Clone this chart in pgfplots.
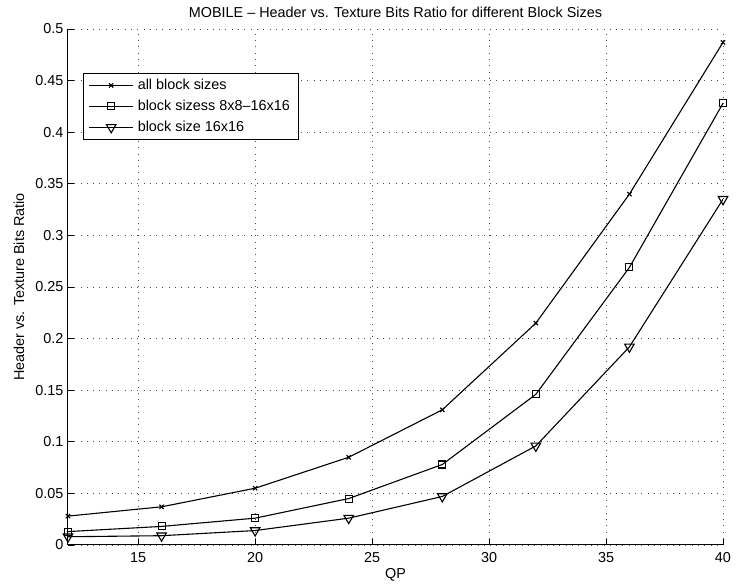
\documentclass[border=0pt]{standalone}
\usepackage{fontspec}
\setmainfont{Liberation Sans}
\usepackage{pgfplots}
\pgfplotsset{compat=1.18}
\begin{document}
\begin{tikzpicture}
\useasboundingbox (-68pt,-41pt) rectangle (672pt,545pt);
\begin{axis}[
  scale only axis,
  width=655pt, height=516pt,
  xmin=12, xmax=40, ymin=0, ymax=0.5,
  xtick={15,20,25,30,35,40},
  ytick={0,0.05,0.1,0.15,0.2,0.25,0.3,0.35,0.4,0.45,0.5},
  yticklabels={0,0.05,0.1,0.15,0.2,0.25,0.3,0.35,0.4,0.45,0.5},
  axis x line*=bottom, axis y line*=left,
  axis line style={line width=1pt,-},
  tick align=inside,
  major tick length=6pt,
  tick style={black, line width=0.9pt},
  grid=major,
  major grid style={black!70, line width=0.6pt, dash pattern=on 0.8pt off 5.5pt},
  /pgf/number format/assume math mode=true,
  tick label style={font=\fontsize{14.4}{17}\selectfont},
  xticklabel style={yshift=-4pt},
  yticklabel style={xshift=-1pt},
  every axis title/.style={at={(axis description cs:0.5,1)}, anchor=center, yshift=17pt, font=\fontsize{14.4}{17}\selectfont},
  every axis x label/.style={at={(axis description cs:0.5,0)}, anchor=center, yshift=-30pt, font=\fontsize{14.4}{17}\selectfont},
  every axis y label/.style={at={(axis description cs:0,0.5)}, anchor=center, rotate=90, yshift=49pt, font=\fontsize{14.4}{17}\selectfont},
  title={MOBILE -- Header vs. Texture Bits Ratio for different Block Sizes},
  xlabel={QP},
  ylabel={Header vs. Texture Bits Ratio},
  legend style={at={(0.0229,0.915)}, anchor=north west, draw=black, line width=1.3pt,
    font=\fontsize{14.4}{17}\selectfont, row sep=5pt, inner xsep=5pt, inner ysep=4pt,
    nodes={inner xsep=4pt}},
  legend cell align=left,
  legend image code/.code={\draw[mark repeat=2,mark phase=2,#1] plot coordinates {(0pt,0pt) (22pt,0pt) (44pt,0pt)};},
  every axis plot/.append style={black, line width=1.1pt},
]
\addplot[mark=x, mark size=3pt, mark options={line width=1.1pt}] coordinates {
(12,0.028) (16,0.037) (20,0.055) (24,0.085) (28,0.131) (32,0.215) (36,0.340) (40,0.487)};
\addlegendentry{all block sizes}
\addplot[mark=square, mark size=3.5pt, mark options={line width=1.1pt}] coordinates {
(12,0.013) (16,0.018) (20,0.026) (24,0.045) (28,0.078) (32,0.146) (36,0.269) (40,0.428)};
\addlegendentry{block sizess 8x8--16x16}
\addplot[mark=triangle, mark size=5.5pt, mark options={line width=1.1pt, rotate=180}] coordinates {
(12,0.008) (16,0.009) (20,0.014) (24,0.026) (28,0.047) (32,0.096) (36,0.192) (40,0.335)};
\addlegendentry{block size 16x16}
\end{axis}
\end{tikzpicture}
\end{document}
